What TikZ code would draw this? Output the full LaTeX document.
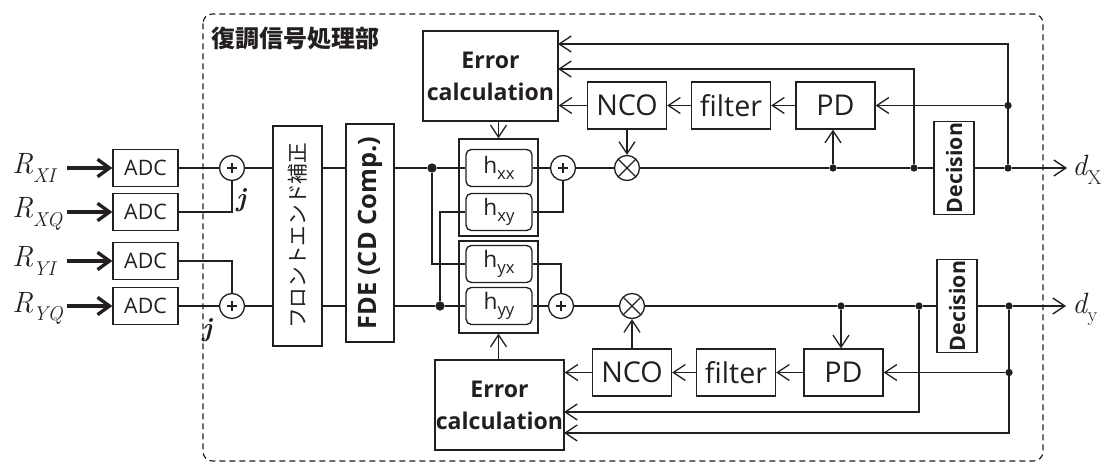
\documentclass[tikz,border=0pt]{standalone}
\usepackage{fontspec}
\usetikzlibrary{arrows.meta,calc}
\newfontfamily\labfont{Open Sans}
\newfontfamily\jpfont{Noto Sans CJK JP}
\definecolor{ink}{RGB}{35,31,32}
% italic symbol with a lowered subscript, set in text fonts so that any size scales
\newcommand{\symsub}[3]{{\itshape #1}\kern#3\raisebox{-0.28em}{\fontsize{15}{15}\selectfont #2}}
% filter tap label: h with a lowered index
\newcommand{\tap}[1]{h\raisebox{-0.45ex}{\fontsize{12.5}{12.5}\selectfont #1}}
\tikzset{
  wire/.style={draw=ink, line width=1pt},
  arr/.style={wire, -{Straight Barb[length=9pt,width=12pt]}},
  fatarr/.style={draw=ink, line width=2.5pt, -{Straight Barb[length=9pt,width=13pt]}},
  box/.style={draw=ink, line width=1pt, rectangle, inner sep=0pt, text=ink,
    font=\labfont\fontsize{21.5}{24}\selectfont},
  adcbox/.style={box, minimum width=48.75pt, minimum height=27.75pt,
    font=\labfont\fontsize{16}{18}\selectfont},
  loopbox/.style={box, minimum width=59.25pt, minimum height=35.25pt},
  errbox/.style={box, minimum height=67.5pt, align=center,
    font=\labfont\bfseries\fontsize{17.3}{24}\selectfont},
  tapbox/.style={box, rounded corners=4pt, minimum width=49.5pt, minimum height=27.75pt,
    font=\labfont\fontsize{17}{18}\selectfont},
  decbox/.style={box, minimum width=30pt, minimum height=69.75pt},
  vlabel/.style={rotate=90, inner sep=0pt, text=ink},
  adder/.style={circle, draw=ink, line width=1pt, minimum size=18.75pt, inner sep=0pt,
    path picture={\draw[ink, line width=0.9pt]
      (path picture bounding box.center) ++(-3.6pt,0) -- ++(7.2pt,0)
      (path picture bounding box.center) ++(0,-3.6pt) -- ++(0,7.2pt);}},
  mixer/.style={circle, draw=ink, line width=1pt, minimum size=18.75pt, inner sep=0pt,
    path picture={\draw[ink, line width=1pt]
      (path picture bounding box.north west) -- (path picture bounding box.south east)
      (path picture bounding box.north east) -- (path picture bounding box.south west);}},
  dot/.style={circle, fill=ink, inner sep=0pt, minimum size=5.5pt},
  bigdot/.style={circle, fill=ink, inner sep=0pt, minimum size=7pt},
  sig/.style={inner sep=0pt, text=ink, font=\fontsize{22}{26}\selectfont},
  jlab/.style={inner sep=0pt, text=ink, font=\fontsize{20}{22}\selectfont\bfseries\itshape},
}
\begin{document}
\begin{tikzpicture}[x=0.75pt, y=-0.75pt]
\useasboundingbox (0,0) rectangle (1117,463);

% processing block outline and title
\draw[ink, line width=0.9pt, dash pattern=on 4.5pt off 3pt, rounded corners=7pt]
  (203,14) rectangle (1043,461);
\node[anchor=west, inner sep=0pt, text=ink, font=\jpfont\bfseries\fontsize{18}{20}\selectfont]
  (title) at (211,38) {復調信号処理部};

% inputs
\node[sig, anchor=base west] (rxi) at (12,174) {\symsub{R}{\itshape XI}{0pt}};
\node[sig, anchor=base west] (rxq) at (12,218) {\symsub{R}{\itshape XQ}{0pt}};
\node[sig, anchor=base west] (ryi) at (12,267) {\symsub{R}{\itshape YI}{0pt}};
\node[sig, anchor=base west] (ryq) at (12,312) {\symsub{R}{\itshape YQ}{0pt}};
\node[adcbox] (adc1) at (145.5,168) {ADC};
\node[adcbox] (adc2) at (145.5,212) {ADC};
\node[adcbox] (adc3) at (145.5,261) {ADC};
\node[adcbox] (adc4) at (145.5,306) {ADC};
\coordinate (in1) at (67,168);
\coordinate (in2) at (67,212);
\coordinate (in3) at (67,261);
\coordinate (in4) at (67,306);
\draw[fatarr] (in1) -- (adc1);
\draw[fatarr] (in2) -- (adc2);
\draw[fatarr] (in3) -- (adc3);
\draw[fatarr] (in4) -- (adc4);

% I/Q combining
\node[adder] (plusA) at (232,168) {};
\node[adder] (plusB) at (232,306) {};
\node[jlab] (jA) at (241,200) {j};
\node[jlab] (jB) at (207,330) {j};
\draw[wire] (adc1) -- (plusA);
\draw[wire] (adc2.east) -| (plusA.south);
\draw[wire] (adc3.east) -| (plusB.north);
\draw[wire] (adc4) -- (plusB);

% front-end correction and FDE
\node[box, minimum width=36.75pt, minimum height=165pt] (fe) at (297.5,236) {};
\node[vlabel, font=\jpfont\fontsize{15.5}{18}\selectfont] (feText) at (fe.center) {フロントエンド補正};
\node[box, minimum width=36pt, minimum height=163.5pt] (fde) at (370,233) {};
\node[vlabel, font=\labfont\bfseries\fontsize{19}{20}\selectfont] (fdeText) at (fde.center) {FDE (CD Comp.)};
\draw[wire] (plusA) -- (plusA -| fe.west);
\draw[wire] (plusB) -- (plusB -| fe.west);
\draw[wire] (plusA -| fe.east) -- (plusA -| fde.west);
\draw[wire] (plusB -| fe.east) -- (plusB -| fde.west);

% 2x2 butterfly filter
\node[box, minimum width=59.25pt, minimum height=72.75pt] (grpX) at (498.5,187.5) {};
\node[box, minimum width=59.25pt, minimum height=69pt] (grpY) at (498.5,287) {};
\node[tapbox] (hxx) at (499,168) {\tap{xx}};
\node[tapbox] (hxy) at (499,212) {\tap{xy}};
\node[tapbox] (hyx) at (499,264) {\tap{yx}};
\node[tapbox] (hyy) at (499,306) {\tap{yy}};
\node[bigdot] (dA) at (432,168) {};
\node[bigdot] (dB) at (440,306) {};
\draw[wire] (plusA -| fde.east) -- (dA);
\draw[wire] (plusB -| fde.east) -- (dB);
\draw[wire] (dA) -- (hxx);
\draw[wire] (dB) -- (hyy);
\draw[wire] (dA) |- (hyx.west);
\draw[wire] (dB) |- (hxy.west);
\node[adder] (plusX) at (563,168) {};
\node[adder] (plusY) at (561,306) {};
\draw[wire] (hxx) -- (plusX);
\draw[wire] (hyy) -- (plusY);
\draw[wire] (hxy.east) -| (plusX.south);
\draw[wire] (hyx.east) -| (plusY.north);

% X polarization: carrier recovery and decision
\node[errbox, minimum width=101.25pt] (errX) at (490.5,76) {Error\\calculation};
\node[loopbox] (ncoX) at (627,105.5) {NCO};
\node[loopbox] (filX) at (731,105.5) {filter};
\node[loopbox] (pdX) at (835.5,105.5) {PD};
\node[mixer] (multX) at (627,168) {};
\node[dot] (d1) at (833,168) {};
\node[dot] (d2) at (914,168) {};
\node[decbox] (decX) at (954,168) {};
\node[vlabel, font=\labfont\bfseries\fontsize{16}{18}\selectfont] (decXText) at (decX.center) {Decision};
\node[dot] (d3) at (1008,168) {};
\node[dot] (d4) at (1008,105.5) {};
\coordinate (outX) at (1067,168);
\node[sig, anchor=base west, font=\fontsize{22}{24}\selectfont] (dX) at (1072,176) {\symsub{d}{X}{0.5pt}};
\draw[wire] (plusX) -- (multX) -- (d1) -- (d2) -- (decX) -- (d3);
\draw[arr] (d3) -- (outX);
\draw[arr] (d1) -- (d1 |- pdX.south);
\draw[arr] (ncoX) -- (multX);
\draw[arr] (pdX) -- (filX);
\draw[arr] (filX) -- (ncoX);
\draw[arr] (ncoX) -- (ncoX -| errX.east);
\draw[arr] (d4) -- (pdX);
\coordinate (fbX1) at (558,44);
\coordinate (fbX2) at (558,69);
\draw[arr] (d3) -- (d3 |- fbX1) -- (fbX1);
\draw[arr] (d2) -- (d2 |- fbX2) -- (fbX2);
\draw[arr] (grpX.north |- errX.south) -- (grpX.north);

% Y polarization: carrier recovery and decision
\node[errbox, minimum width=96.75pt] (errY) at (499.5,405) {Error\\calculation};
\node[loopbox] (ncoY) at (632,372.5) {NCO};
\node[loopbox] (filY) at (736,372.5) {filter};
\node[loopbox] (pdY) at (843.5,372.5) {PD};
\node[mixer] (multY) at (632,306) {};
\node[dot] (e1) at (841,306) {};
\node[dot] (e2) at (919,306) {};
\node[decbox] (decY) at (957,306) {};
\node[vlabel, font=\labfont\bfseries\fontsize{16}{18}\selectfont] (decYText) at (decY.center) {Decision};
\node[dot] (e3) at (1009,306) {};
\node[dot] (e4) at (1009,372.5) {};
\coordinate (outY) at (1066,306);
\node[sig, anchor=base west, font=\fontsize{22}{24}\selectfont] (dY) at (1072,313) {\symsub{d}{y}{0.5pt}};
\draw[wire] (plusY) -- (multY) -- (e1) -- (e2) -- (decY) -- (e3);
\draw[arr] (e3) -- (outY);
\draw[arr] (e1) -- (e1 |- pdY.north);
\draw[arr] (ncoY) -- (multY);
\draw[arr] (pdY) -- (filY);
\draw[arr] (filY) -- (ncoY);
\draw[arr] (ncoY) -- (ncoY -| errY.east);
\draw[arr] (e4) -- (pdY);
\coordinate (fbY1) at (564,412);
\coordinate (fbY2) at (564,433);
\draw[arr] (e2) -- (e2 |- fbY1) -- (fbY1);
\draw[arr] (e3) -- (e3 |- fbY2) -- (fbY2);
\draw[arr] (grpY.south |- errY.north) -- (grpY.south);
\end{tikzpicture}
\end{document}
